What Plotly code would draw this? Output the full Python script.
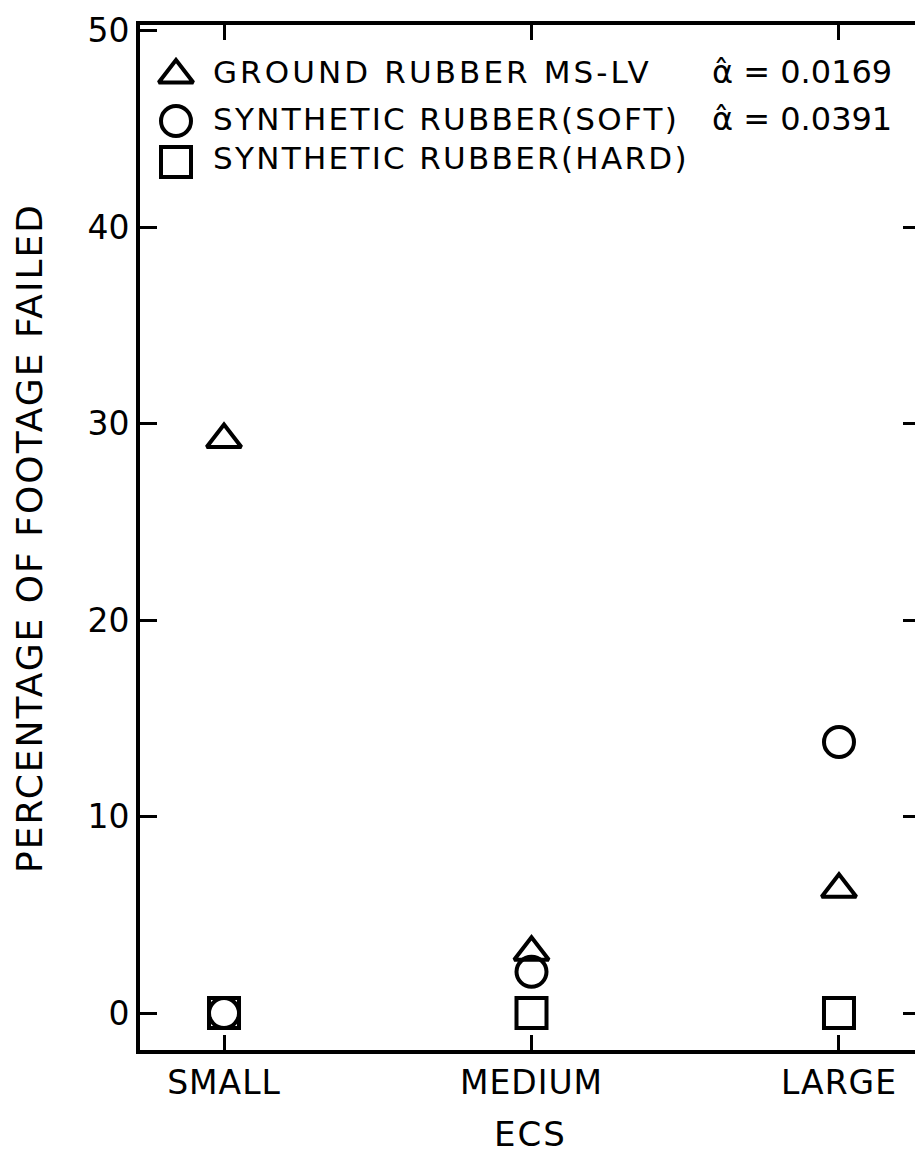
import plotly.graph_objects as go

# ---------------- data ----------------
categories = ["SMALL", "MEDIUM", "LARGE"]
ground_rubber = [29.2, 3.1, 6.3]        # triangles
soft_rubber = [0.0, 2.1, 13.8]          # circles
hard_rubber = [0.0, 0.0, 0.0]           # squares
series_names = ["GROUND RUBBER MS-LV", "SYNTHETIC RUBBER(SOFT)", "SYNTHETIC RUBBER(HARD)"]
alpha_values = ["0.0169", "0.0391", None]
y_ticks = [0, 10, 20, 30, 40, 50]
x_title = "ECS"
y_title = "PERCENTAGE OF FOOTAGE FAILED"

# ---------------- layout geometry ----------------
W, H = 915, 1157
L, R, T, B = 140, 0, 25, 107
PW, PH = W - L - R, H - T - B
FONT = "DejaVu Sans"

def px(x):
    return (x - L) / PW

def py(y):
    return (H - B - y) / PH

def spaced(s, ls):
    return f'<span style="letter-spacing:{ls}px">{s}</span>'

symbols = ["triangle-up-open", "circle-open", "square-open"]
series = [ground_rubber, soft_rubber, hard_rubber]
MS = 30
LW = 4

fig = go.Figure()
for vals, sym, name in zip(series[::-1], symbols[::-1], series_names[::-1]):
    fig.add_trace(go.Scatter(
        x=categories, y=vals, mode="markers", name=name, showlegend=False,
        marker=dict(symbol=sym, size=MS, color="black", line=dict(width=LW, color="black")),
        cliponaxis=False,
    ))

# empty trace for right-side tick axis
fig.add_trace(go.Scatter(x=[None], y=[None], yaxis="y2", showlegend=False, hoverinfo="skip"))

# legend keys drawn on a pixel-space overlay axis pair
leg_x = [176, 176, 176]
leg_y = [75, 121, 162]
fig.add_trace(go.Scatter(
    x=leg_x, y=leg_y, xaxis="x2", yaxis="y3", mode="markers", showlegend=False,
    marker=dict(symbol=symbols, size=MS, color="black", line=dict(width=LW, color="black")),
    hoverinfo="skip", cliponaxis=False,
))

annotations = []
text_rows = [72, 119, 158]
text_ls = [3.1, 2.3, 2.3]
for name, ty, ls in zip(series_names, text_rows, text_ls):
    annotations.append(dict(
        text=spaced(name, ls), xref="paper", yref="paper", x=px(211), y=py(ty),
        xanchor="left", yanchor="middle", showarrow=False,
        font=dict(family=FONT, size=31, color="black"),
    ))
for a, ty in zip(alpha_values, text_rows):
    if a is None:
        continue
    annotations.append(dict(
        text="α\u0302 = " + a, xref="paper", yref="paper", x=px(710), y=py(ty),
        xanchor="left", yanchor="middle", showarrow=False,
        font=dict(family=FONT, size=32, color="black"),
    ))
annotations.append(dict(
    text=spaced(y_title, 2), xref="paper", yref="paper", x=px(29), y=py(538),
    xanchor="center", yanchor="middle", textangle=-90, showarrow=False,
    font=dict(family=FONT, size=36, color="black"),
))
annotations.append(dict(
    text=spaced(x_title, 2), xref="paper", yref="paper", x=px(530), y=py(1134),
    xanchor="center", yanchor="middle", showarrow=False,
    font=dict(family=FONT, size=34, color="black"),
))

fig.update_layout(
    width=W, height=H,
    margin=dict(l=L, r=R, t=T, b=B, pad=0),
    paper_bgcolor="white", plot_bgcolor="white",
    font=dict(family=FONT, color="black"),
    showlegend=False,
    annotations=annotations,
    xaxis=dict(
        type="category", range=[-0.2732, 2.2472],
        tickvals=categories, ticktext=[spaced(c, 1) for c in categories],
        showgrid=False, zeroline=False,
        showline=True, linecolor="black", linewidth=4, mirror="ticks",
        ticks="inside", ticklen=15, tickwidth=3, tickcolor="black",
        tickfont=dict(family=FONT, size=33, color="black"),
        ticklabelstandoff=0,
    ),
    yaxis=dict(
        range=[-1.88, 50.3], tickvals=y_ticks,
        showgrid=False, zeroline=False,
        showline=True, linecolor="black", linewidth=4,
        ticks="inside", ticklen=17, tickwidth=3, tickcolor="black",
        tickfont=dict(family=FONT, size=33, color="black"),
        ticklabelstandoff=0,
    ),
    yaxis2=dict(
        overlaying="y", side="right", anchor="x", matches="y",
        range=[-1.88, 50.3], tickvals=y_ticks[:-1],
        showgrid=False, zeroline=False, showline=False,
        ticks="inside", ticklen=12, tickwidth=3, tickcolor="black",
        showticklabels=False,
    ),
    xaxis2=dict(
        overlaying="x", anchor="y3", range=[L, W - R], visible=False,
    ),
    yaxis3=dict(
        overlaying="y", anchor="x2", range=[H - B, T], visible=False,
    ),
)

fig.write_html("out.html")
